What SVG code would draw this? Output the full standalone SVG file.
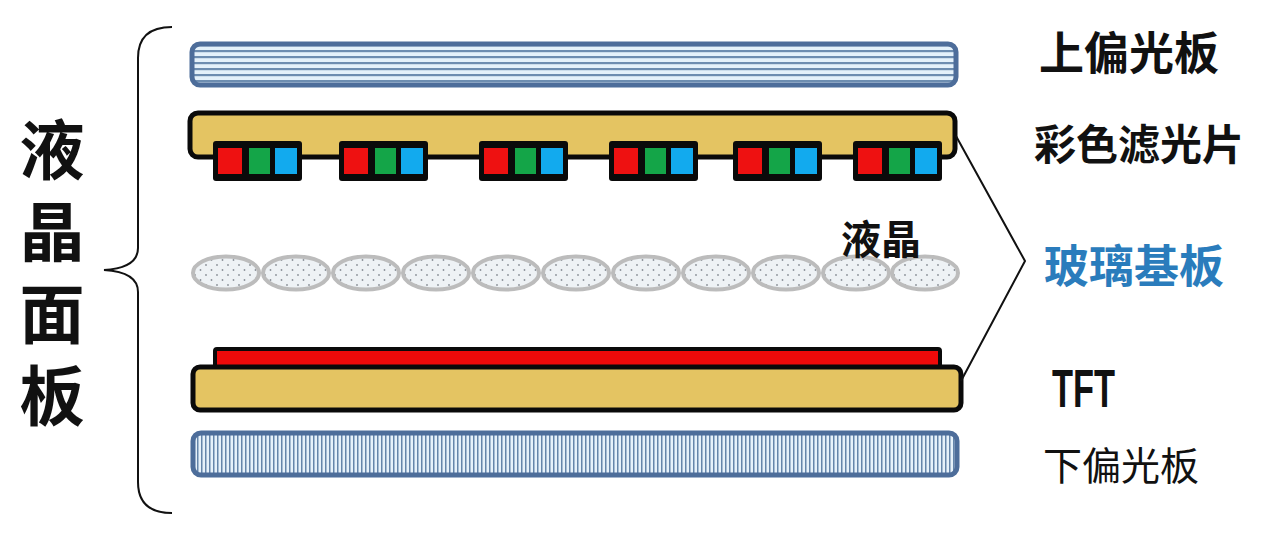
<svg xmlns="http://www.w3.org/2000/svg" width="1280" height="535" viewBox="0 0 1280 535">
<defs>
<pattern id="hstripe" patternUnits="userSpaceOnUse" x="0" y="0" width="10" height="6">
<rect x="0" y="0" width="10" height="6" fill="#e4f1fa"/>
<rect x="0" y="2" width="10" height="2.2" fill="#6d8db0"/>
</pattern>
<pattern id="vstripe" patternUnits="userSpaceOnUse" x="0" y="0" width="4" height="10">
<rect x="0" y="0" width="4" height="10" fill="#e6f1fa"/>
<rect x="1" y="0" width="1.5" height="10" fill="#6585aa"/>
</pattern>
<pattern id="dots" patternUnits="userSpaceOnUse" x="0" y="0" width="11" height="10">
<rect x="0" y="0" width="11" height="10" fill="#eef2f5"/>
<circle cx="2" cy="2" r="0.9" fill="#8a9098"/>
<circle cx="7.5" cy="7" r="0.9" fill="#8a9098"/>
</pattern>
<ellipse id="lc" cx="0" cy="0" rx="33" ry="16.5" fill="url(#dots)" stroke="#bcbcbc" stroke-width="4"/>
<g id="cf">
<rect x="0" y="0" width="89" height="40" rx="3" fill="#0a0a0a"/>
<rect x="5" y="7" width="24" height="26" fill="#ee1111"/>
<rect x="36" y="7" width="21" height="26" fill="#14a548"/>
<rect x="62" y="7" width="22" height="26" fill="#12aaee"/>
</g>
</defs>
<style>
.glass{fill:#e4c462;stroke:#0a0a0a;stroke-width:5}
.pol{stroke:#4d6d9a;stroke-width:5}
.lbl{font-family:"Noto Sans CJK SC","Noto Sans CJK JP",sans-serif;font-weight:bold;fill:#111;text-anchor:middle;dominant-baseline:central}
.wire{fill:none;stroke:#111;stroke-width:2}
</style>
<rect width="1280" height="535" fill="#ffffff"/>

<g id="top-polarizer">
<rect class="pol" x="192" y="44" width="764" height="41" rx="8" fill="url(#hstripe)"/>
</g>

<g id="color-filter">
<rect class="glass" x="190" y="113" width="765" height="44" rx="8"/>
<use href="#cf" x="213" y="141"/>
<use href="#cf" x="339" y="141"/>
<use href="#cf" x="479" y="141"/>
<use href="#cf" x="609" y="141"/>
<use href="#cf" x="733" y="141"/>
<use href="#cf" x="853" y="141"/>
</g>

<g id="liquid-crystal">
<use href="#lc" x="226" y="273"/>
<use href="#lc" x="296" y="273"/>
<use href="#lc" x="366" y="273"/>
<use href="#lc" x="436" y="273"/>
<use href="#lc" x="506" y="273"/>
<use href="#lc" x="576" y="273"/>
<use href="#lc" x="646" y="273"/>
<use href="#lc" x="716" y="273"/>
<use href="#lc" x="786" y="273"/>
<use href="#lc" x="856" y="273"/>
<use href="#lc" x="925" y="273"/>
<text class="lbl" x="881" y="237" font-size="40">液晶</text>
</g>

<g id="tft">
<rect x="215" y="349" width="725" height="19" rx="2" fill="#ee0a0a" stroke="#0a0a0a" stroke-width="4"/>
<rect class="glass" x="193" y="367" width="768" height="43" rx="7"/>
</g>

<g id="bottom-polarizer">
<rect class="pol" x="193" y="433" width="764" height="42" rx="8" fill="url(#vstripe)"/>
</g>

<g id="connectors">
<path class="wire" d="M172,27 Q138,27 138,58 L138,248 Q138,268 104,270 Q138,272 138,292 L138,482 Q138,513 172,513"/>
<polyline class="wire" points="956,136 1025,261 961,381"/>
</g>

<g id="label-panel">
<text x="52" y="117" font-size="65" font-weight="bold" font-family="Noto Sans CJK SC, Noto Sans CJK JP, sans-serif" fill="#111" writing-mode="vertical-rl" letter-spacing="17">液晶面板</text>
</g>

<g id="labels-right">
<text class="lbl" x="1129" y="50" font-size="45">上偏光板</text>
<text class="lbl" x="1139" y="141" font-size="42">彩色滤光片</text>
<text class="lbl" x="1134" y="263" font-size="45" style="fill:#2a7cbc">玻璃基板</text>
<text x="1052" y="407" font-size="53" font-weight="bold" font-family="Liberation Sans, Arial, sans-serif" fill="#111" textLength="63" lengthAdjust="spacingAndGlyphs">TFT</text>
<text class="lbl" x="1121" y="463" font-size="39" style="font-weight:normal">下偏光板</text>
</g>
</svg>
